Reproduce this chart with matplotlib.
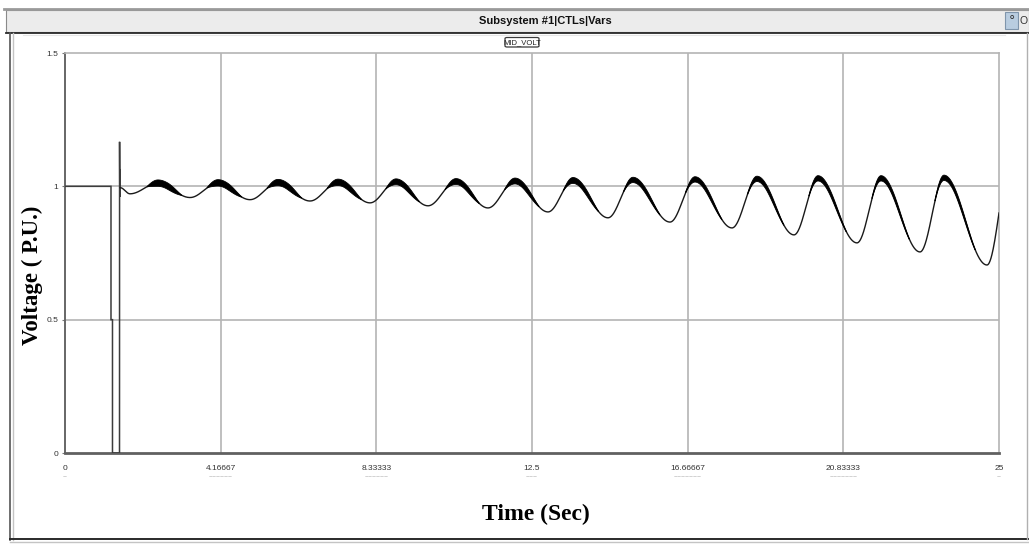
import numpy as np
import matplotlib
matplotlib.use("Agg")
import matplotlib.pyplot as plt
from matplotlib.patches import Rectangle, FancyBboxPatch
from matplotlib.lines import Line2D

# ---- signal data (time in s, voltage in p.u.) ----
# pre-fault level, fault steps and recovery spike
event_t = [0.0, 1.231, 1.231, 1.271, 1.271, 1.459, 1.461, 1.467, 1.472, 1.478]
event_v = [1.0, 1.0, 0.5, 0.5, 0.0, 0.0, 1.167, 0.960, 1.065, 0.995]

# post-fault oscillation extremes
trough_t = [1.740, 3.346, 4.952, 6.558, 8.164, 9.716, 11.322, 12.928,
            14.534, 16.194, 17.853, 19.513, 21.199, 22.886, 24.679]
trough_v = [0.972, 0.958, 0.950, 0.945, 0.938, 0.927, 0.919, 0.904,
            0.882, 0.866, 0.844, 0.818, 0.788, 0.754, 0.705]
peak_t = [2.489, 4.095, 5.701, 7.307, 8.860, 10.466, 12.045, 13.597,
          15.203, 16.863, 18.522, 20.155, 21.842, 23.528]
peak_v = [1.012, 1.013, 1.014, 1.015, 1.017, 1.018, 1.020, 1.022,
          1.024, 1.026, 1.028, 1.030, 1.030, 1.032]
# half-width of the high-frequency ripple riding on each crest (p.u.)
ripple_hw = [0.012, 0.012, 0.012, 0.012, 0.011, 0.011, 0.011, 0.011,
             0.010, 0.010, 0.010, 0.010, 0.010, 0.010]
end_t, end_v = 25.0, 0.900

xticks = [0, 4.16667, 8.33333, 12.5, 16.66667, 20.83333, 25]
xtick_labels = ["0", "4.16667", "8.33333", "12.5", "16.66667", "20.83333", "25"]
yticks = [0, 0.5, 1.0, 1.5]
ytick_labels = ["0", "0.5", "1", "1.5"]

title = "Subsystem #1|CTLs|Vars"
legend_label = "MID_VOLT"
xlabel = "Time (Sec)"
ylabel = "Voltage ( P.U.)"

# ---- build the smooth oscillation through its extremes ----
keys_t = [event_t[-1]]
keys_v = [event_v[-1]]
for i in range(len(trough_t)):
    keys_t.append(trough_t[i]); keys_v.append(trough_v[i])
    if i < len(peak_t):
        keys_t.append(peak_t[i]); keys_v.append(peak_v[i])

seg_t, seg_v = [], []
for k in range(len(keys_t) - 1):
    s = np.linspace(0, 1, 80, endpoint=False)
    t0, t1, v0, v1 = keys_t[k], keys_t[k + 1], keys_v[k], keys_v[k + 1]
    seg_t.append(t0 + (t1 - t0) * s)
    seg_v.append(v0 + (v1 - v0) * (1 - np.cos(np.pi * s)) / 2)
# last rising stretch is cut by the end of the run
s = np.linspace(0, 1, 40)
seg_t.append(keys_t[-1] + (end_t - keys_t[-1]) * s)
seg_v.append(keys_v[-1] + (end_v - keys_v[-1]) * (1 - np.cos(np.pi / 2 * s)))
osc_t = np.concatenate(seg_t)
osc_v = np.concatenate(seg_v)

# ripple envelope around each crest
env = np.zeros_like(osc_t)
for i in range(len(peak_t)):
    rise = peak_t[i] - trough_t[i]
    fall = trough_t[i + 1] - peak_t[i]
    a = peak_t[i] - 0.40 * rise
    b = peak_t[i]
    c = peak_t[i] + 0.30 * fall
    d = peak_t[i] + 0.75 * fall
    prof = np.zeros_like(osc_t)
    m = (osc_t >= a) & (osc_t < b)
    prof[m] = np.sin(np.pi / 2 * (osc_t[m] - a) / (b - a))
    m = (osc_t >= b) & (osc_t < c)
    prof[m] = 1.0
    m = (osc_t >= c) & (osc_t < d)
    prof[m] = np.cos(np.pi / 2 * (osc_t[m] - c) / (d - c))
    env = np.maximum(env, ripple_hw[i] * prof)

# ---- figure ----
W, H = 1029, 545
fig = plt.figure(figsize=(W / 100, H / 100), dpi=100)
fig.patch.set_facecolor("white")


def fx(x):
    return x / W


def fy(y):
    return 1 - y / H


# window frame and header bar
fig.add_artist(Line2D([fx(4), fx(1029)], [fy(9), fy(9)], color="#9a9a9a", lw=2.0))
fig.add_artist(Rectangle((fx(6), fy(32)), fx(1029) - fx(6), fy(10) - fy(32),
                         facecolor="#ececec", edgecolor="#8a8a8a", lw=0.8))
fig.add_artist(Line2D([fx(6), fx(1029)], [fy(32.5), fy(32.5)], color="#2a2a2a", lw=1.3))
fig.add_artist(Line2D([fx(23), fx(1005)], [fy(35), fy(35)], color="#e6e6e6", lw=0.8))
fig.add_artist(Line2D([fx(10), fx(10)], [fy(33), fy(540)], color="#555555", lw=1.2))
fig.add_artist(Line2D([fx(12.5), fx(12.5)], [fy(33), fy(540)], color="#c4c4c4", lw=1.0))
fig.add_artist(Line2D([fx(10), fx(1029)], [fy(539), fy(539)], color="#2a2a2a", lw=1.4))
fig.add_artist(Line2D([fx(10), fx(1029)], [fy(542), fy(542)], color="#c4c4c4", lw=1.0))
fig.add_artist(Line2D([fx(1027), fx(1027)], [fy(33), fy(539)], color="#b0b0b0", lw=1.0))
fig.text(fx(545), fy(21), title, ha="center", va="center", fontsize=8,
         fontweight="bold", family=["Liberation Sans Narrow", "Liberation Sans", "DejaVu Sans"],
         color="#111111")
fig.add_artist(Rectangle((fx(1005), fy(29)), fx(13), fy(0) - fy(17),
                         facecolor="#b9cde0", edgecolor="#7f95ab", lw=0.8))
fig.text(fx(1011.5), fy(20.5), "\u00b0", ha="center", va="center", fontsize=9, color="#333333")
fig.text(fx(1023.5), fy(21), "O", ha="center", va="center", fontsize=7.5, color="#333333",
         family=["Liberation Sans", "DejaVu Sans"])

# legend tag
fig.add_artist(FancyBboxPatch((fx(505), fy(47)), fx(34), fy(0) - fy(9.5),
                              boxstyle="round,pad=0,rounding_size=0.002",
                              facecolor="white", edgecolor="#3a3a3a", lw=0.9))
fig.text(fx(522), fy(42.3), legend_label, ha="center", va="center", fontsize=5.5,
         family=["Liberation Sans Narrow", "Liberation Sans", "DejaVu Sans"], color="#222222")

# plot area
ax = fig.add_axes([fx(65), fy(453), fx(999) - fx(65), fy(53) - fy(453)])
ax.set_xlim(0, 25)
ax.set_ylim(0, 1.5)
ax.set_facecolor("white")

for xv in xticks[1:-1]:
    ax.axvline(xv, color="#b4b4b4", lw=1.2, zorder=1)
for yv in [0.5, 1.0]:
    ax.axhline(yv, color="#b4b4b4", lw=1.2, zorder=1)

ax.plot(event_t, event_v, color="#3c3c3c", lw=1.1, zorder=3, solid_joinstyle="miter")
ax.plot(osc_t, osc_v, color="#1a1a1a", lw=1.0, zorder=3)
ax.fill_between(osc_t, osc_v - env, osc_v + env, where=env > 0.0005,
                color="black", lw=0.6, zorder=4)

for side in ["top", "right"]:
    ax.spines[side].set_color("#b4b4b4")
    ax.spines[side].set_linewidth(1.2)
ax.spines["left"].set_color("#666666")
ax.spines["left"].set_linewidth(1.4)
ax.spines["bottom"].set_color("#606060")
ax.spines["bottom"].set_linewidth(2.0)

ax.set_xticks(xticks)
ax.set_xticklabels(xtick_labels)
ax.set_yticks(yticks)
ax.set_yticklabels(ytick_labels)
ax.tick_params(axis="x", length=0, pad=9, labelsize=6, labelcolor="#333333")
ax.tick_params(axis="y", length=2, width=0.8, color="#777777", pad=3,
               labelsize=6, labelcolor="#333333")
for lab in ax.get_xticklabels() + ax.get_yticklabels():
    lab.set_family(["Liberation Sans", "DejaVu Sans"])

# faint clipped second row under the time labels
trans = ax.get_xaxis_transform()
for xv, lab in zip(xticks, xtick_labels):
    ax.text(xv, -0.060, "\u2012" * max(1, len(lab) - 1), transform=trans, ha="center",
            va="center", fontsize=4.5, color="#8c8c8c", clip_on=False,
            family=["DejaVu Sans"])

fig.text(fx(536), fy(514), xlabel, ha="center", va="center", fontsize=17,
         fontweight="bold", family=["Liberation Serif", "DejaVu Serif"], color="black")
fig.text(fx(32), fy(275), ylabel, ha="center", va="center", fontsize=16.5,
         fontweight="bold", rotation=90, family=["Liberation Serif", "DejaVu Serif"],
         color="black")

fig.savefig("out.png", dpi=100, facecolor="white")
